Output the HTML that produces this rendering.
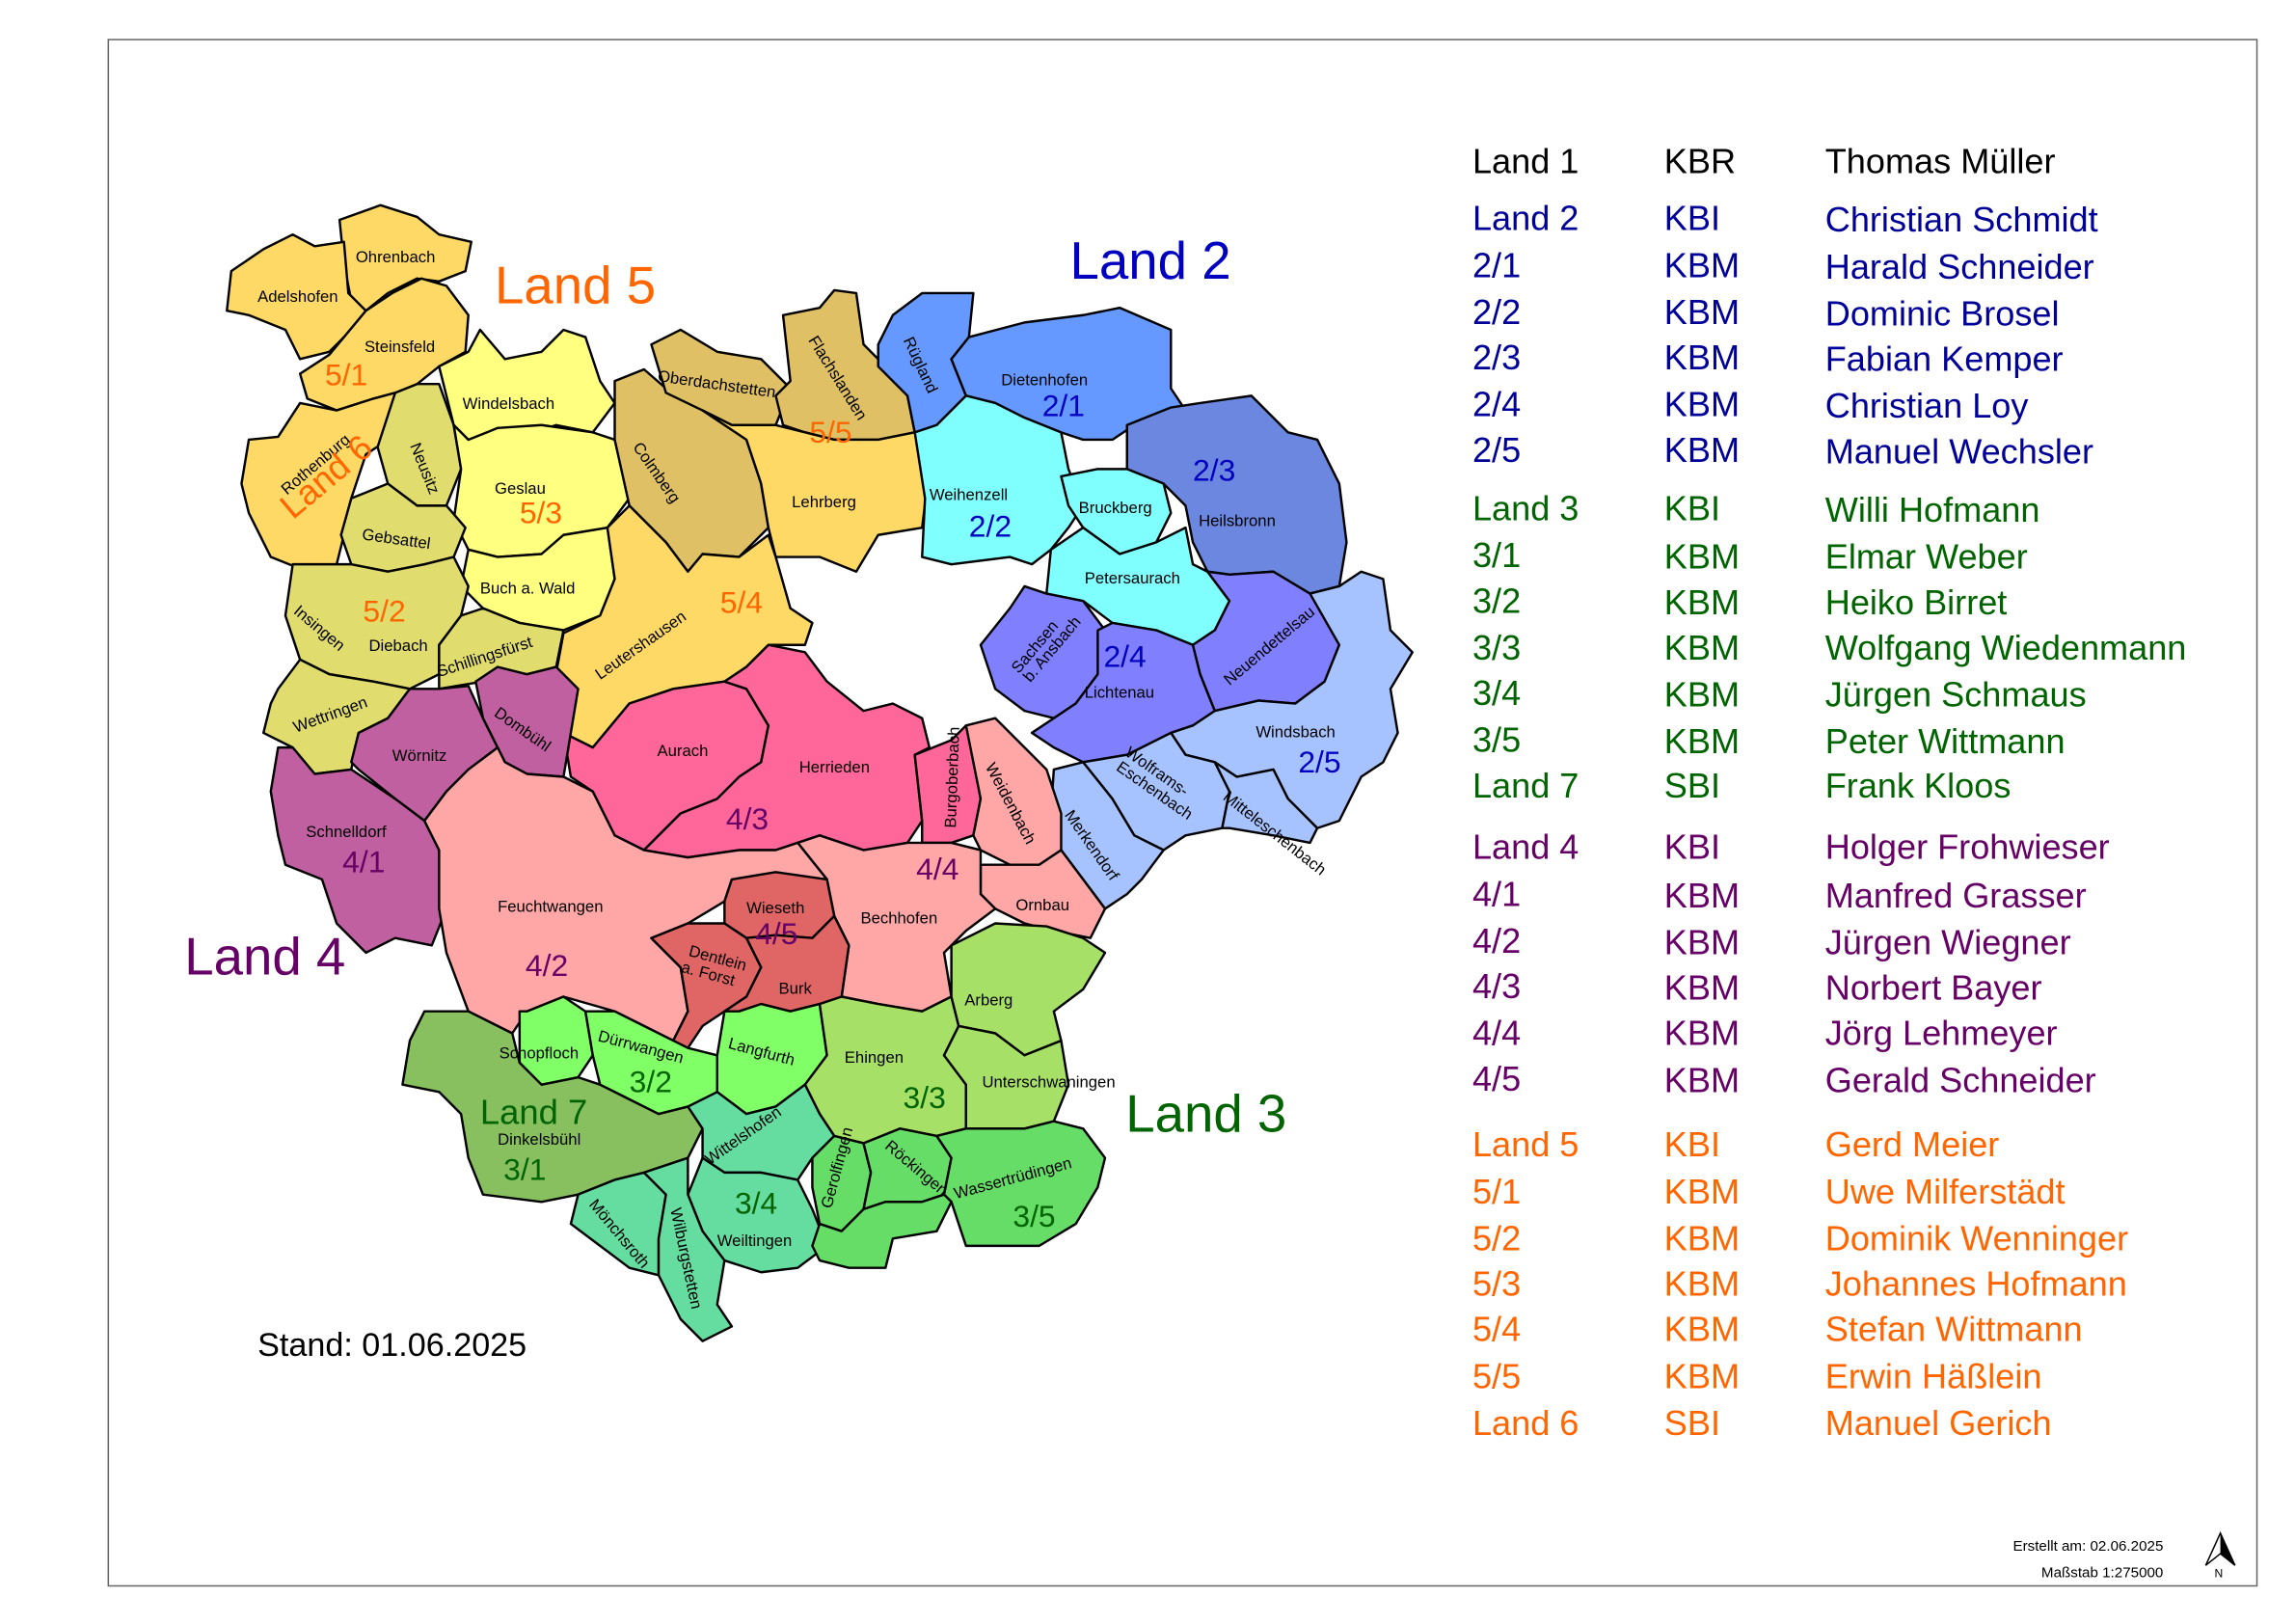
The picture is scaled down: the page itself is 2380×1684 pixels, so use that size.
<!DOCTYPE html>
<html><head><meta charset="utf-8"><style>
html,body{margin:0;padding:0;background:#fff}
svg{display:block}
text{font-family:"Liberation Sans",sans-serif}
.m{font-size:11px;fill:#000}
.n{font-size:21px}
.L{font-size:36px}
.t{font-size:23.8px}
</style></head><body>
<svg width="2380" height="1684" viewBox="0 0 1568 1108" preserveAspectRatio="none" xmlns="http://www.w3.org/2000/svg">
<rect x="0" y="0" width="1568" height="1108" fill="#fff"/>
<rect x="74" y="27" width="1468" height="1055" fill="none" stroke="#666" stroke-width="1"/>
<g stroke="#000" stroke-width="1.6" stroke-linejoin="round">
<polygon fill="#FFD966" points="232,150 260,140 285,148 300,160 322,165 318,185 300,192 285,190 265,200 250,212 240,205 235,180"/>
<polygon fill="#FFD966" points="158,185 180,170 200,160 215,168 235,165 238,200 250,212 240,225 225,240 205,245 195,225 170,215 155,212"/>
<polygon fill="#FFD966" points="250,212 268,200 288,190 305,195 320,215 318,240 300,250 285,262 270,268 255,272 230,280 210,272 205,255 225,242"/>
<polygon fill="#FFD966" points="170,300 190,298 205,275 230,280 255,272 270,268 275,290 265,300 250,310 240,340 235,365 230,385 210,390 185,380 170,350 165,330"/>
<polygon fill="#E0DC6E" points="270,268 285,262 300,262 310,290 315,320 305,345 285,345 265,330 258,305"/>
<polygon fill="#FFFF80" points="300,250 320,240 328,225 345,245 370,240 385,225 400,230 410,260 420,275 405,295 380,290 350,300 320,300 310,290"/>
<polygon fill="#FFFF80" points="310,290 320,300 340,292 370,290 405,295 420,300 430,340 415,360 385,365 370,378 340,380 320,375 310,355 315,320"/>
<polygon fill="#E0DC6E" points="240,340 265,330 285,345 305,345 318,360 310,380 290,385 265,390 240,385 233,365"/>
<polygon fill="#FFFF80" points="320,375 340,380 370,378 385,365 415,360 420,395 410,420 385,430 355,425 330,415 315,400"/>
<polygon fill="#E0DC6E" points="200,385 230,385 240,385 265,390 290,385 310,380 320,400 315,420 300,440 300,460 280,470 255,465 225,460 205,450 195,420"/>
<polygon fill="#E0DC6E" points="300,440 315,420 330,415 355,425 385,430 380,455 360,460 330,465 300,470"/>
<polygon fill="#E0DC6E" points="190,470 205,450 225,460 255,465 280,470 265,490 245,500 240,525 215,528 200,510 180,500 185,480"/>
<polygon fill="#E0C064" points="420,260 440,252 455,265 480,275 500,280 510,300 520,330 525,360 505,380 480,378 470,390 455,370 430,345 420,300 420,275"/>
<polygon fill="#E0C064" points="445,235 465,225 490,240 520,245 540,265 530,290 500,290 480,280 455,268"/>
<polygon fill="#E0C064" points="535,215 560,210 570,198 585,200 590,235 605,250 620,270 625,295 600,300 570,300 550,295 535,290 530,270 540,260"/>
<polygon fill="#FFD966" points="480,280 500,290 530,290 550,295 570,300 600,300 625,295 635,320 630,360 600,365 585,390 560,380 530,380 525,360 520,330 510,300"/>
<polygon fill="#FFD966" points="385,432 410,420 420,395 415,360 430,345 455,370 470,390 480,378 505,380 525,365 530,380 540,415 555,425 550,440 525,440 510,455 495,465 460,470 430,480 405,510 385,500 378,470"/>
<polygon fill="#6699FF" points="600,235 610,215 630,200 665,200 662,230 650,245 660,270 640,290 625,295 620,270 600,250"/>
<polygon fill="#6699FF" points="650,245 662,230 700,220 740,215 765,210 800,225 800,265 810,280 775,290 760,300 740,300 725,295 700,285 680,275 660,270"/>
<polygon fill="#6B87DF" points="770,290 800,278 820,275 855,270 880,295 900,300 915,330 920,370 915,400 895,405 870,390 840,392 825,390 815,370 810,345 795,330 770,320"/>
<polygon fill="#80FFFF" points="625,295 640,290 660,270 680,275 700,285 725,295 730,320 740,345 730,360 718,375 705,385 690,380 650,385 630,380 632,340"/>
<polygon fill="#80FFFF" points="725,325 750,320 770,320 795,330 800,350 790,370 765,378 740,360 730,345"/>
<polygon fill="#80FFFF" points="718,375 740,360 765,378 790,370 810,360 815,385 825,390 840,410 830,430 815,440 790,430 760,425 740,410 715,405"/>
<polygon fill="#8080FF" points="690,415 700,400 715,405 740,410 755,430 750,460 735,480 720,490 700,485 680,470 670,440"/>
<polygon fill="#8080FF" points="750,430 760,425 790,430 815,440 820,460 830,485 815,495 800,500 790,505 770,515 740,520 720,510 705,500 720,490 735,480 750,460"/>
<polygon fill="#8080FF" points="825,390 840,392 870,390 895,405 915,400 915,440 905,465 885,480 860,478 830,485 820,460 815,440 830,430 840,410"/>
<polygon fill="#A6C3FF" points="895,405 915,400 930,390 945,395 950,430 965,445 950,470 955,500 945,520 930,530 915,560 900,565 880,545 870,525 845,530 830,520 810,515 800,500 815,495 830,485 860,478 885,480 905,465 915,440"/>
<polygon fill="#A6C3FF" points="740,520 770,515 790,505 800,500 810,515 830,520 840,540 835,565 810,570 795,580 775,570 760,545"/>
<polygon fill="#A6C3FF" points="830,520 845,530 870,525 880,545 900,565 895,575 870,570 840,565 835,565 840,540"/>
<polygon fill="#A6C3FF" points="720,525 740,520 760,545 775,570 795,580 780,600 770,610 755,620 740,600 725,580 718,555"/>
<polygon fill="#FF6699" points="385,500 405,510 430,480 460,470 495,465 510,470 525,495 520,520 505,530 490,545 465,555 440,580 420,570 405,540 390,530"/>
<polygon fill="#FF6699" points="495,465 510,455 525,440 550,445 565,465 590,485 610,480 630,490 635,510 625,515 630,560 620,575 590,580 560,570 530,580 505,580 470,585 440,580 465,555 490,545 505,530 520,520 525,495 510,470"/>
<polygon fill="#FF6699" points="625,515 650,505 660,495 665,515 670,545 665,570 650,575 630,575 630,560"/>
<polygon fill="#FFA6A6" points="660,495 680,490 700,510 715,525 725,555 725,580 710,590 690,590 670,580 665,570 670,545"/>
<polygon fill="#FFA6A6" points="670,590 690,590 710,590 725,580 740,600 755,620 745,640 720,635 700,630 680,620 670,610"/>
<polygon fill="#FFA6A6" points="545,575 560,570 590,580 620,575 650,575 670,580 670,610 680,620 660,635 645,650 650,680 630,690 600,685 575,680 580,645 570,625 565,600"/>
<polygon fill="#C060A0" points="245,500 265,490 280,470 300,470 320,468 330,490 340,510 320,525 305,540 290,560 270,545 245,525 240,520"/>
<polygon fill="#C060A0" points="325,465 340,455 360,460 380,455 395,470 390,500 385,530 360,528 345,520 340,510 330,490"/>
<polygon fill="#C060A0" points="190,510 200,510 215,528 240,525 270,545 290,560 300,580 305,620 295,645 270,640 250,650 230,630 220,600 195,590 190,570 185,540"/>
<polygon fill="#FFA6A6" points="290,560 305,540 320,525 340,510 345,520 360,528 385,530 405,540 420,570 440,580 470,585 505,580 530,580 545,575 565,600 500,600 495,615 470,630 445,640 465,660 470,690 460,710 440,700 420,690 385,680 360,690 350,705 320,690 305,650 300,620 300,580"/>
<polygon fill="#E06666" points="500,600 530,595 565,600 570,625 555,640 530,638 510,640 495,630 495,615"/>
<polygon fill="#E06666" points="445,640 470,630 495,630 510,640 520,660 510,680 495,690 480,700 470,715 460,710 470,690 465,660"/>
<polygon fill="#E06666" points="510,640 530,638 555,640 570,625 580,645 575,680 560,685 540,690 520,685 505,690 495,690 510,680 520,660"/>
<polygon fill="#88C060" points="290,690 320,690 350,705 355,725 370,740 395,735 410,740 430,750 450,760 470,755 480,770 470,790 440,800 420,805 395,815 370,820 330,815 320,790 315,760 300,745 275,740 280,710"/>
<polygon fill="#80FF66" points="355,690 360,690 385,680 400,690 405,720 395,735 370,740 355,725"/>
<polygon fill="#80FF66" points="400,690 420,690 440,700 460,710 470,715 490,720 495,745 470,755 450,760 430,750 410,740 405,720"/>
<polygon fill="#80FF66" points="495,690 505,690 520,685 540,690 560,685 565,720 550,740 530,755 510,760 490,745 490,720"/>
<polygon fill="#A6E066" points="560,685 575,680 600,685 630,690 650,680 655,700 645,720 660,740 660,770 640,775 615,770 590,780 570,775 560,760 550,740 565,720"/>
<polygon fill="#A6E066" points="650,645 680,630 715,632 740,640 755,650 740,675 720,690 725,710 700,720 680,705 655,700 650,680"/>
<polygon fill="#A6E066" points="655,700 680,705 700,720 725,710 730,740 720,765 700,770 680,770 660,770 660,740 645,720"/>
<polygon fill="#66DDA0" points="470,755 490,745 510,760 530,755 550,740 560,760 570,775 555,790 545,805 520,800 495,800 480,790 480,770"/>
<polygon fill="#66DDA0" points="480,790 495,800 520,800 545,805 555,825 565,850 545,865 520,868 495,860 480,840 470,815"/>
<polygon fill="#66DDA0" points="395,815 420,805 440,800 455,815 450,845 450,870 430,865 410,850 390,835"/>
<polygon fill="#66DDA0" points="440,800 470,790 470,815 480,840 495,860 490,890 500,905 480,915 465,900 450,870 450,845 455,815"/>
<polygon fill="#66DD66" points="555,790 570,775 590,780 595,800 590,825 575,840 560,835 555,810"/>
<polygon fill="#66DD66" points="590,780 615,770 640,775 650,790 645,815 630,820 605,820 590,825 595,800"/>
<polygon fill="#66DD66" points="640,775 660,770 680,770 700,770 720,765 740,770 755,790 750,810 735,835 710,850 685,850 660,850 650,820 645,815 650,790"/>
<polygon fill="#66DD66" points="560,835 575,840 590,825 605,820 630,820 645,815 650,820 640,840 610,845 605,865 580,865 560,860 555,850"/>
</g>
<g class="m">
<text x="243" y="179">Ohrenbach</text><text x="176" y="206">Adelshofen</text><text x="249" y="240">Steinsfeld</text>
<text x="316" y="279">Windelsbach</text><text x="338" y="337">Geslau</text><text x="247" y="368" transform="rotate(8 247 368)">Gebsattel</text>
<text x="328" y="405">Buch a. Wald</text><text x="252" y="444">Diebach</text>
<text x="200" y="418" transform="rotate(40 200 418)">Insingen</text>
<text x="300" y="462" transform="rotate(-18 300 462)">Schillingsfürst</text>
<text x="202" y="500" transform="rotate(-20 202 500)">Wettringen</text>
<text x="268" y="519">Wörnitz</text>
<text x="337" y="488" transform="rotate(35 337 488)">Dombühl</text>
<text x="209" y="571">Schnelldorf</text>
<text x="196" y="338" transform="rotate(-40 196 338)">Rothenburg</text>
<text x="280" y="304" transform="rotate(68 280 304)">Neusitz</text>
<text x="449" y="260" transform="rotate(8 449 260)">Oberdachstetten</text>
<text x="552" y="232" transform="rotate(58 552 232)">Flachslanden</text>
<text x="432" y="305" transform="rotate(55 432 305)">Colmberg</text>
<text x="541" y="346">Lehrberg</text>
<text x="410" y="464" transform="rotate(-35 410 464)">Leutershausen</text>
<text x="617" y="232" transform="rotate(65 617 232)">Rügland</text>
<text x="684" y="263">Dietenhofen</text><text x="635" y="341">Weihenzell</text>
<text x="737" y="350">Bruckberg</text><text x="819" y="359">Heilsbronn</text>
<text x="741" y="398">Petersaurach</text><text x="741" y="476">Lichtenau</text>
<text x="696" y="460" transform="rotate(-50 696 460)">Sachsen</text>
<text x="704" y="466" transform="rotate(-50 704 466)">b. Ansbach</text>
<text x="840" y="468" transform="rotate(-40 840 468)">Neuendettelsau</text>
<text x="858" y="503">Windsbach</text>
<text x="768" y="515" transform="rotate(35 768 515)">Wolframs-</text>
<text x="762" y="525" transform="rotate(35 762 525)">Eschenbach</text>
<text x="835" y="545" transform="rotate(38 835 545)">Mitteleschenbach</text>
<text x="727" y="556" transform="rotate(55 727 556)">Merkendorf</text>
<text x="449" y="516">Aurach</text><text x="546" y="527">Herrieden</text>
<text x="653" y="565" transform="rotate(-88 653 565)">Burgoberbach</text>
<text x="673" y="523" transform="rotate(62 673 523)">Weidenbach</text>
<text x="694" y="621">Ornbau</text><text x="588" y="630">Bechhofen</text>
<text x="340" y="622">Feuchtwangen</text><text x="510" y="623">Wieseth</text>
<text x="470" y="652" transform="rotate(15 470 652)">Dentlein</text>
<text x="465" y="663" transform="rotate(15 465 663)">a. Forst</text>
<text x="532" y="678">Burk</text>
<text x="341" y="722">Schopfloch</text>
<text x="408" y="710" transform="rotate(15 408 710)">Dürrwangen</text>
<text x="497" y="715" transform="rotate(15 497 715)">Langfurth</text>
<text x="577" y="725">Ehingen</text><text x="659" y="686">Arberg</text>
<text x="671" y="742">Unterschwaningen</text>
<text x="340" y="781">Dinkelsbühl</text>
<text x="485" y="795" transform="rotate(-35 485 795)">Wittelshofen</text>
<text x="490" y="850">Weiltingen</text>
<text x="568" y="825" transform="rotate(-75 568 825)">Gerolfingen</text>
<text x="604" y="783" transform="rotate(40 604 783)">Röckingen</text>
<text x="653" y="818" transform="rotate(-15 653 818)">Wassertrüdingen</text>
<text x="402" y="822" transform="rotate(50 402 822)">Mönchsroth</text>
<text x="458" y="825" transform="rotate(78 458 825)">Wilburgstetten</text>
</g>
<g class="n">
<text x="222" y="263" fill="#FF6600">5/1</text><text x="355" y="357" fill="#FF6600">5/3</text>
<text x="248" y="424" fill="#FF6600">5/2</text><text x="492" y="418" fill="#FF6600">5/4</text>
<text x="553" y="302" fill="#FF6600">5/5</text>
<text x="712" y="284" fill="#0000C0">2/1</text><text x="815" y="328" fill="#0000C0">2/3</text>
<text x="662" y="366" fill="#0000C0">2/2</text><text x="754" y="455" fill="#0000C0">2/4</text>
<text x="887" y="527" fill="#0000C0">2/5</text>
<text x="496" y="566" fill="#660066">4/3</text><text x="626" y="600" fill="#660066">4/4</text>
<text x="234" y="595" fill="#660066">4/1</text><text x="359" y="666" fill="#660066">4/2</text>
<text x="516" y="644" fill="#660066">4/5</text>
<text x="430" y="745" fill="#006400">3/2</text><text x="344" y="805" fill="#006400">3/1</text>
<text x="617" y="756" fill="#006400">3/3</text><text x="502" y="828" fill="#006400">3/4</text>
<text x="692" y="837" fill="#006400">3/5</text>
</g>
<text x="200" y="355" fill="#FF6600" style="font-size:24px" transform="rotate(-40 200 355)">Land 6</text>
<text x="328" y="767" fill="#006400" style="font-size:24px">Land 7</text>
<g class="L">
<text x="338" y="207" fill="#FF6600">Land 5</text>
<text x="731" y="190" fill="#0000C0">Land 2</text>
<text x="126" y="665" fill="#660066">Land 4</text>
<text x="769" y="772" fill="#006400">Land 3</text>
</g>
<text x="176" y="925" style="font-size:22.5px">Stand: 01.06.2025</text>
<g class="t">
<g fill="#000"><text x="1006" y="118">Land 1</text><text x="1137" y="118">KBR</text><text x="1247" y="118">Thomas Müller</text></g>
<g fill="#000099">
<text x="1006" y="157">Land 2</text><text x="1137" y="157">KBI</text><text x="1247" y="158">Christian Schmidt</text>
<text x="1006" y="189">2/1</text><text x="1137" y="189">KBM</text><text x="1247" y="190">Harald Schneider</text>
<text x="1006" y="221">2/2</text><text x="1137" y="221">KBM</text><text x="1247" y="222">Dominic Brosel</text>
<text x="1006" y="252">2/3</text><text x="1137" y="252">KBM</text><text x="1247" y="253">Fabian Kemper</text>
<text x="1006" y="284">2/4</text><text x="1137" y="284">KBM</text><text x="1247" y="285">Christian Loy</text>
<text x="1006" y="315">2/5</text><text x="1137" y="315">KBM</text><text x="1247" y="316">Manuel Wechsler</text>
</g>
<g fill="#006400">
<text x="1006" y="355">Land 3</text><text x="1137" y="355">KBI</text><text x="1247" y="356">Willi Hofmann</text>
<text x="1006" y="387">3/1</text><text x="1137" y="388">KBM</text><text x="1247" y="388">Elmar Weber</text>
<text x="1006" y="418">3/2</text><text x="1137" y="419">KBM</text><text x="1247" y="419">Heiko Birret</text>
<text x="1006" y="450">3/3</text><text x="1137" y="450">KBM</text><text x="1247" y="450">Wolfgang Wiedenmann</text>
<text x="1006" y="481">3/4</text><text x="1137" y="482">KBM</text><text x="1247" y="482">Jürgen Schmaus</text>
<text x="1006" y="513">3/5</text><text x="1137" y="514">KBM</text><text x="1247" y="514">Peter Wittmann</text>
<text x="1006" y="544">Land 7</text><text x="1137" y="544">SBI</text><text x="1247" y="544">Frank Kloos</text>
</g>
<g fill="#660066">
<text x="1006" y="586">Land 4</text><text x="1137" y="586">KBI</text><text x="1247" y="586">Holger Frohwieser</text>
<text x="1006" y="618">4/1</text><text x="1137" y="619">KBM</text><text x="1247" y="619">Manfred Grasser</text>
<text x="1006" y="650">4/2</text><text x="1137" y="651">KBM</text><text x="1247" y="651">Jürgen Wiegner</text>
<text x="1006" y="681">4/3</text><text x="1137" y="682">KBM</text><text x="1247" y="682">Norbert Bayer</text>
<text x="1006" y="713">4/4</text><text x="1137" y="713">KBM</text><text x="1247" y="713">Jörg Lehmeyer</text>
<text x="1006" y="744">4/5</text><text x="1137" y="745">KBM</text><text x="1247" y="745">Gerald Schneider</text>
</g>
<g fill="#FF6600">
<text x="1006" y="789">Land 5</text><text x="1137" y="789">KBI</text><text x="1247" y="789">Gerd Meier</text>
<text x="1006" y="821">5/1</text><text x="1137" y="821">KBM</text><text x="1247" y="821">Uwe Milferstädt</text>
<text x="1006" y="853">5/2</text><text x="1137" y="853">KBM</text><text x="1247" y="853">Dominik Wenninger</text>
<text x="1006" y="884">5/3</text><text x="1137" y="884">KBM</text><text x="1247" y="884">Johannes Hofmann</text>
<text x="1006" y="915">5/4</text><text x="1137" y="915">KBM</text><text x="1247" y="915">Stefan Wittmann</text>
<text x="1006" y="947">5/5</text><text x="1137" y="947">KBM</text><text x="1247" y="947">Erwin Häßlein</text>
<text x="1006" y="979">Land 6</text><text x="1137" y="979">SBI</text><text x="1247" y="979">Manuel Gerich</text>
</g>
</g>
<text x="1478" y="1058" text-anchor="end" style="font-size:10px">Erstellt am: 02.06.2025</text>
<text x="1478" y="1076" text-anchor="end" style="font-size:10px">Maßstab 1:275000</text>
<polygon points="1517,1046 1507,1068 1517,1060 1527,1068" fill="#fff" stroke="#000" stroke-width="1"/>
<polygon points="1517,1046 1517,1060 1527,1068" fill="#000"/>
<text x="1513" y="1076" style="font-size:8px">N</text>
</svg>
</body></html>
